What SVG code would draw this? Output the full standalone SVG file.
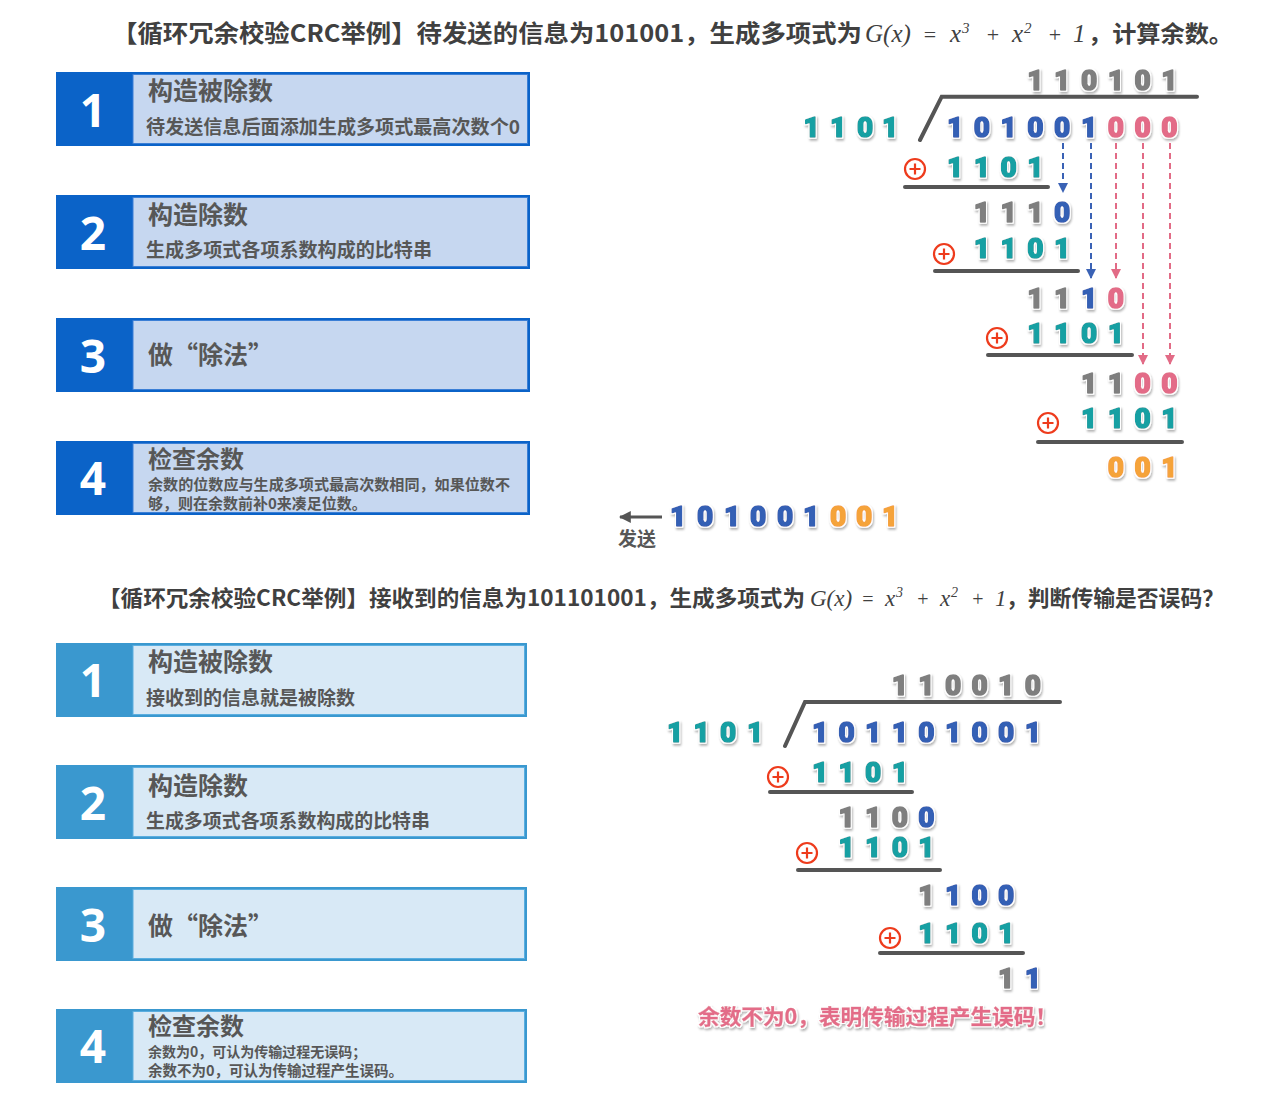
<svg xmlns="http://www.w3.org/2000/svg" width="1274" height="1117" viewBox="0 0 1274 1117">
<defs>
<style>
.cn{font-family:"Noto Sans CJK SC","Noto Sans",sans-serif;font-weight:700;fill:#575757}
.ttl{font-family:"Noto Sans CJK SC","Noto Sans",sans-serif;font-weight:700;fill:#404040}
.math{font-family:"Liberation Serif","Times New Roman",serif;font-style:italic;fill:#404040}
.op{font-family:"Liberation Serif","Times New Roman",serif;fill:#404040}
.num{font-family:"Open Sans","Liberation Sans",sans-serif;font-weight:700;fill:#fff;text-anchor:middle;font-size:46px}
.dg{font-family:"Roboto","Open Sans",Arial,sans-serif;font-weight:900;font-size:28px;text-anchor:middle;stroke-width:1.6px;stroke-linejoin:round;filter:url(#sh)}
.t{fill:#17a0a3;stroke:#17a0a3}.b{fill:#3460b5;stroke:#3460b5}.g{fill:#7f7f7f;stroke:#7f7f7f}.p{fill:#e36c88;stroke:#e36c88}.o{fill:#f5a33a;stroke:#f5a33a}
.ul{stroke:#555;stroke-width:4;stroke-linecap:round;fill:none}
.xor{fill:none;stroke:#ee3b1c;stroke-width:2.2}
.db{stroke:#3a62b5;stroke-width:2;stroke-dasharray:6 4;fill:none}
.dp{stroke:#e26b86;stroke-width:2;stroke-dasharray:6 4;fill:none}
.d1{fill:#0b63c8}.l1{fill:#c6d7f0;stroke:#3b7fd6;stroke-width:1}
.d2{fill:#3a98cf}.l2{fill:#d8e9f6;stroke:#5aaee0;stroke-width:1}
</style>
<filter id="sh" x="-30%" y="-30%" width="160%" height="160%">
<feMorphology in="SourceAlpha" operator="dilate" radius="1.3" result="d"/>
<feGaussianBlur in="d" stdDeviation="0.9" result="bl"/>
<feOffset in="bl" dx="1" dy="1.5" result="o"/>
<feFlood flood-color="#000" flood-opacity="0.3"/>
<feComposite in2="o" operator="in" result="shadow"/>
<feFlood flood-color="#fff"/>
<feComposite in2="d" operator="in" result="white"/>
<feMerge><feMergeNode in="shadow"/><feMergeNode in="white"/><feMergeNode in="SourceGraphic"/></feMerge>
</filter>
<marker id="ab" viewBox="0 0 10 10" refX="9" refY="5" markerWidth="5" markerHeight="5" orient="auto"><path d="M0,0L10,5L0,10z" fill="#3a62b5"/></marker>
<marker id="ap" viewBox="0 0 10 10" refX="9" refY="5" markerWidth="5" markerHeight="5" orient="auto"><path d="M0,0L10,5L0,10z" fill="#e26b86"/></marker>
<marker id="ag" viewBox="0 0 10 10" refX="9" refY="5" markerWidth="4" markerHeight="4" orient="auto"><path d="M0,0L10,5L0,10z" fill="#555"/></marker>
<g id="xorSym"><circle r="10" class="xor"/><path d="M-5.5,0H5.5M0,-5.5V5.5" class="xor"/></g>
</defs>
<rect width="1274" height="1117" fill="#fff"/>

<!-- Top title -->
<g id="title-top">
<text class="ttl" x="112" y="42" font-size="24" textLength="750" lengthAdjust="spacingAndGlyphs">【循环冗余校验CRC举例】待发送的信息为101001，生成多项式为</text>
<text class="math" x="865" y="42" font-size="25">G(x)</text>
<text class="op" x="930" y="42" font-size="22" text-anchor="middle">=</text>
<text class="math" x="950" y="42" font-size="25">x</text>
<text class="math" x="962" y="33" font-size="15">3</text>
<text class="op" x="993" y="42" font-size="22" text-anchor="middle">+</text>
<text class="math" x="1012" y="42" font-size="25">x</text>
<text class="math" x="1024" y="33" font-size="15">2</text>
<text class="op" x="1055" y="42" font-size="22" text-anchor="middle">+</text>
<text class="math" x="1073" y="42" font-size="25">1</text>
<text class="ttl" x="1088" y="42" font-size="23" textLength="145" lengthAdjust="spacingAndGlyphs">，计算余数。</text>
</g>

<!-- Top boxes -->
<g id="top-step1">
<rect class="d1" x="56" y="72" width="474" height="74"/>
<rect class="l1" x="133" y="74.5" width="394.5" height="69"/>
<text class="num" x="93" y="127">1</text>
<text class="cn" x="148" y="100" font-size="25">构造被除数</text>
<text class="cn" x="146" y="134" font-size="19" textLength="374" lengthAdjust="spacingAndGlyphs">待发送信息后面添加生成多项式最高次数个0</text>
</g>
<g id="top-step2">
<rect class="d1" x="56" y="195" width="474" height="74"/>
<rect class="l1" x="133" y="197.5" width="394.5" height="69"/>
<text class="num" x="93" y="250">2</text>
<text class="cn" x="148" y="224" font-size="25">构造除数</text>
<text class="cn" x="146" y="257" font-size="19" textLength="286" lengthAdjust="spacingAndGlyphs">生成多项式各项系数构成的比特串</text>
</g>
<g id="top-step3">
<rect class="d1" x="56" y="318" width="474" height="74"/>
<rect class="l1" x="133" y="320.5" width="394.5" height="69"/>
<text class="num" x="93" y="373">3</text>
<text class="cn" x="148" y="364" font-size="25">做“除法”</text>
</g>
<g id="top-step4">
<rect class="d1" x="56" y="441" width="474" height="74"/>
<rect class="l1" x="133" y="443.5" width="394.5" height="69"/>
<text class="num" x="93" y="495">4</text>
<text class="cn" x="148" y="468" font-size="24">检查余数</text>
<text class="cn" x="148" y="490" font-size="15" textLength="362" lengthAdjust="spacingAndGlyphs">余数的位数应与生成多项式最高次数相同，如果位数不</text>
<text class="cn" x="148" y="509" font-size="15">够，则在余数前补0来凑足位数。</text>
</g>

<!-- Top division -->
<g id="top-division">
<path d="M920,140L941.7,96.7H1197" stroke="#555" stroke-width="4" stroke-linecap="round" fill="none"/>
<text class="dg g" x="1035.4 1062.2 1089 1115.8 1142.6 1169.4" y="90">110101</text>
<text class="dg t" x="811.7 838 865 890" y="137">1101</text>
<text class="dg" y="137"><tspan class="b" x="955 981.8 1008.6 1035.4 1062.2 1089">101001</tspan><tspan class="p" x="1115.8 1142.6 1169.4">000</tspan></text>
<use href="#xorSym" x="915" y="169"/>
<text class="dg t" x="955 981.8 1008.6 1035.4" y="177">1101</text>
<path class="ul" d="M905,187H1048"/>
<text class="dg" y="222"><tspan class="g" x="981.8 1008.6 1035.4">111</tspan><tspan class="b" x="1062.2">0</tspan></text>
<use href="#xorSym" x="944" y="254"/>
<text class="dg t" x="981.8 1008.6 1035.4 1062.2" y="258">1101</text>
<path class="ul" d="M935,271H1078"/>
<text class="dg" y="308"><tspan class="g" x="1035.4 1062.2">11</tspan><tspan class="b" x="1089">1</tspan><tspan class="p" x="1115.8">0</tspan></text>
<use href="#xorSym" x="997" y="338"/>
<text class="dg t" x="1035.4 1062.2 1089 1115.8" y="343">1101</text>
<path class="ul" d="M988,355H1132"/>
<text class="dg" y="393"><tspan class="g" x="1089 1115.8">11</tspan><tspan class="p" x="1142.6 1169.4">00</tspan></text>
<use href="#xorSym" x="1048" y="423"/>
<text class="dg t" x="1089 1115.8 1142.6 1169.4" y="428">1101</text>
<path class="ul" d="M1038,442H1182"/>
<text class="dg o" x="1115.8 1142.6 1169.4" y="477">001</text>
</g>

<!-- Connectors (bring-down arrows) -->
<g id="connectors">
<path class="db" d="M1063,143V192" marker-end="url(#ab)"/>
<path class="db" d="M1091,143V278" marker-end="url(#ab)"/>
<path class="dp" d="M1116,143V278" marker-end="url(#ap)"/>
<path class="dp" d="M1143,143V364" marker-end="url(#ap)"/>
<path class="dp" d="M1170,143V364" marker-end="url(#ap)"/>
<path d="M662,517H620" stroke="#555" stroke-width="3" fill="none" marker-end="url(#ag)"/>
</g>

<!-- Sent -->
<g id="sent">
<text class="cn" x="618" y="546" font-size="19">发送</text>
<text class="dg" y="526"><tspan class="b" x="678 705 732 758 785 811">101001</tspan><tspan class="o" x="838 864 890">001</tspan></text>
</g>

<!-- Bottom title -->
<g id="title-bottom">
<text class="ttl" x="98" y="606" font-size="22" textLength="707" lengthAdjust="spacingAndGlyphs">【循环冗余校验CRC举例】接收到的信息为101101001，生成多项式为</text>
<text class="math" x="810" y="606" font-size="23">G(x)</text>
<text class="op" x="868" y="606" font-size="20" text-anchor="middle">=</text>
<text class="math" x="885" y="606" font-size="23">x</text>
<text class="math" x="896" y="597" font-size="14">3</text>
<text class="op" x="923" y="606" font-size="20" text-anchor="middle">+</text>
<text class="math" x="940" y="606" font-size="23">x</text>
<text class="math" x="951" y="597" font-size="14">2</text>
<text class="op" x="978" y="606" font-size="20" text-anchor="middle">+</text>
<text class="math" x="995" y="606" font-size="23">1</text>
<text class="ttl" x="1006" y="606" font-size="22" textLength="218" lengthAdjust="spacingAndGlyphs">，判断传输是否误码？</text>
</g>

<!-- Bottom boxes -->
<g id="bottom-step1">
<rect class="d2" x="56" y="643" width="471" height="74"/>
<rect class="l2" x="133" y="645.5" width="391.5" height="69"/>
<text class="num" x="93" y="697">1</text>
<text class="cn" x="148" y="671" font-size="25">构造被除数</text>
<text class="cn" x="146" y="705" font-size="19">接收到的信息就是被除数</text>
</g>
<g id="bottom-step2">
<rect class="d2" x="56" y="765" width="471" height="74"/>
<rect class="l2" x="133" y="767.5" width="391.5" height="69"/>
<text class="num" x="93" y="820">2</text>
<text class="cn" x="148" y="795" font-size="25">构造除数</text>
<text class="cn" x="146" y="828" font-size="19" textLength="284" lengthAdjust="spacingAndGlyphs">生成多项式各项系数构成的比特串</text>
</g>
<g id="bottom-step3">
<rect class="d2" x="56" y="887" width="471" height="74"/>
<rect class="l2" x="133" y="889.5" width="391.5" height="69"/>
<text class="num" x="93" y="942">3</text>
<text class="cn" x="148" y="935" font-size="25">做“除法”</text>
</g>
<g id="bottom-step4">
<rect class="d2" x="56" y="1009" width="471" height="74"/>
<rect class="l2" x="133" y="1011.5" width="391.5" height="69"/>
<text class="num" x="93" y="1063">4</text>
<text class="cn" x="148" y="1035" font-size="24">检查余数</text>
<text class="cn" x="148" y="1057" font-size="14">余数为0，可认为传输过程无误码；</text>
<text class="cn" x="148" y="1076" font-size="14.5">余数不为0，可认为传输过程产生误码。</text>
</g>

<!-- Bottom division -->
<g id="bottom-division">
<path d="M785,746L805,702H1060" stroke="#555" stroke-width="4" stroke-linecap="round" fill="none"/>
<text class="dg g" x="899.8 926.4 953 979.6 1006.2 1032.8" y="695">110010</text>
<text class="dg t" x="675 701.7 728 755" y="742">1101</text>
<text class="dg b" x="820 846.6 873.2 899.8 926.4 953 979.6 1006.2 1032.8" y="742">101101001</text>
<use href="#xorSym" x="778" y="777"/>
<text class="dg t" x="820 846.6 873.2 899.8" y="782">1101</text>
<path class="ul" d="M770,792H912"/>
<text class="dg" y="827"><tspan class="g" x="846.6 873.2 899.8">110</tspan><tspan class="b" x="926.4">0</tspan></text>
<use href="#xorSym" x="807" y="853"/>
<text class="dg t" x="846.6 873.2 899.8 926.4" y="857">1101</text>
<path class="ul" d="M798,870H940"/>
<text class="dg" y="905"><tspan class="g" x="926.4">1</tspan><tspan class="b" x="953 979.6 1006.2">100</tspan></text>
<use href="#xorSym" x="890" y="938"/>
<text class="dg t" x="926.4 953 979.6 1006.2" y="943">1101</text>
<path class="ul" d="M880,953H1023"/>
<text class="dg" y="988"><tspan class="g" x="1006.2">1</tspan><tspan class="b" x="1032.8">1</tspan></text>
<text class="cn" x="698" y="1024" font-size="21" textLength="359" lengthAdjust="spacingAndGlyphs" style="fill:#e36c88;stroke:#e36c88;stroke-width:0.4px;filter:url(#sh)">余数不为0，表明传输过程产生误码！</text>
</g>
</svg>
